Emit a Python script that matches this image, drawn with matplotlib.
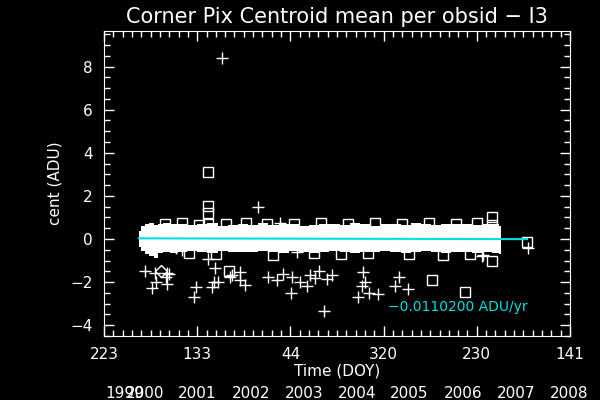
import matplotlib
matplotlib.use('Agg')
from matplotlib import pyplot as plt
from matplotlib.ticker import MultipleLocator
import matplotlib.transforms as mtransforms

# time axis: days since 1999 DOY 223
doy_ticks = [0, 275, 550, 825, 1100, 1375]
doy_labels = ['223', '133', '44', '320', '230', '141']
year_pos = [62, 121, 274, 434, 590, 747, 900, 1059, 1216, 1372]
year_labels = ['1999', '2000', '2001', '2002', '2003', '2004', '2005', '2006', '2007', '2008']

# envelope of the dense band of obsid means
band_x = [103, 115, 125, 140, 153, 165, 185, 205, 230, 260, 290, 320, 350, 380,
          410, 440, 470, 500, 530, 560, 590, 620, 650, 680, 710, 740, 770, 800,
          830, 860, 890, 920, 950, 980, 1010, 1040, 1070, 1100, 1130, 1160, 1171]
band_hi = [0.35, 0.60, 0.70, 0.72, 0.65, 0.70, 0.72, 0.68, 0.70, 0.65, 0.70, 0.72,
           0.60, 0.65, 0.70, 0.65, 0.72, 0.65, 0.70, 0.68, 0.60, 0.65, 0.68, 0.70,
           0.65, 0.72, 0.70, 0.62, 0.68, 0.70, 0.65, 0.72, 0.68, 0.65, 0.70, 0.68,
           0.70, 0.65, 0.68, 0.70, 0.60]
band_lo = [-0.35, -0.55, -0.70, -0.80, -0.90, -0.65, -0.60, -0.65, -0.60, -0.55,
           -0.60, -0.65, -0.55, -0.60, -0.58, -0.60, -0.55, -0.60, -0.65, -0.55,
           -0.60, -0.65, -0.60, -0.55, -0.60, -0.65, -0.60, -0.58, -0.55, -0.60,
           -0.65, -0.60, -0.55, -0.60, -0.65, -0.60, -0.60, -0.65, -0.62, -0.65,
           -0.70]

# outliers drawn as crosses
cross_x = [121, 150, 186, 192, 183, 153, 142, 186, 307, 328, 271, 266, 319, 325,
           336, 372, 378, 401, 401, 416, 484, 510, 528, 555, 578, 552, 599, 608,
           623, 634, 658, 673, 649, 764, 770, 761, 749, 782, 808, 870, 859, 897,
           1118, 1251, 348, 454, 519, 212, 230, 569, 1115]
cross_y = [-1.49, -1.58, -1.58, -1.63, -1.77, -2.00, -2.28, -2.09, -0.93, -1.35,
           -2.23, -2.70, -2.23, -2.00, -2.00, -1.77, -1.67, -1.53, -1.91, -2.14,
           -1.77, -1.91, -1.63, -1.77, -2.00, -2.51, -2.19, -1.67, -1.81, -1.49,
           -1.86, -1.67, -3.35, -1.53, -2.00, -2.19, -2.70, -2.51, -2.56, -1.77,
           -2.19, -2.33, -0.74, -0.42, 8.42, 1.49, 0.74, -0.42, -0.51, -0.60, -0.79]

# outliers drawn as squares
sq_x = [307, 307, 307, 307, 369, 968, 1065, 1145, 1145, 1145, 1248,
        180, 230, 280, 360, 420, 480, 560, 640, 720, 800, 880, 960, 1040, 1100,
        250, 330, 500, 620, 700, 780, 900, 1000, 1080]
sq_y = [3.12, 1.53, 1.21, 0.70, -1.49, -1.91, -2.47, 1.02, 0.65, -1.02, -0.14,
        0.68, 0.72, 0.66, 0.70, 0.72, 0.68, 0.70, 0.74, 0.68, 0.72, 0.68, 0.74,
        0.68, 0.72,
        -0.66, -0.70, -0.72, -0.66, -0.70, -0.66, -0.70, -0.72, -0.68]

diamond_x = [168]
diamond_y = [-1.49]

# linear fit
fit_x = [103, 1248]
fit_y = [0.030, -0.005]
slope_text = '\u22120.0110200 ADU/yr'

plt.rcParams['font.family'] = ['DejaVu Sans']
fig = plt.figure(figsize=(6, 4), dpi=100, facecolor='black')
ax = fig.add_axes([0.1733, 0.16, 0.7767, 0.7625], facecolor='black')

ax.fill_between(band_x, band_lo, band_hi, color='white', step='mid', lw=0)
ax.plot(sq_x, sq_y, ls='none', marker='s', ms=6.5, mfc='none', mec='white', mew=1)
ax.plot(diamond_x, diamond_y, ls='none', marker='D', ms=6, mfc='none', mec='white', mew=1)
ax.plot(cross_x, cross_y, ls='none', marker='+', ms=8, mec='white', mew=1)
ax.plot(fit_x, fit_y, color='#00e0e0', lw=1.5)
ax.text(0.908, 0.095, slope_text, transform=ax.transAxes, color='#00e0e0',
        fontsize=10, ha='right', va='center')

ax.set_xlim(0, 1375)
ax.set_ylim(-4.5, 9.65)
ax.set_xticks(doy_ticks)
ax.set_xticklabels(doy_labels)
ax.xaxis.set_minor_locator(MultipleLocator(27.5))
ax.yaxis.set_major_locator(MultipleLocator(2))
ax.yaxis.set_minor_locator(MultipleLocator(0.5))
ax.tick_params(which='both', direction='in', colors='white', top=True, right=True,
               labelsize=11)
ax.tick_params(which='major', length=7, width=1, pad=8)
ax.tick_params(which='minor', length=4, width=1)
for s in ax.spines.values():
    s.set_color('white')

ax.set_title('Corner Pix Centroid mean per obsid \u2212 I3', color='white',
             fontsize=15, pad=6)
ax.set_xlabel('Time (DOY)', color='white', fontsize=11, labelpad=1)
ax.set_ylabel('cent (ADU)', color='white', fontsize=11, labelpad=6)

# year labels under the DOY axis (the first two overlap in the original too)
trans = mtransforms.blended_transform_factory(ax.transData, ax.transAxes)
for xp, lab in zip(year_pos, year_labels):
    ax.text(xp, -0.187, lab, transform=trans, color='white', fontsize=11,
            ha='center', va='center', clip_on=False)

fig.savefig('out.png', dpi=100, facecolor='black')
